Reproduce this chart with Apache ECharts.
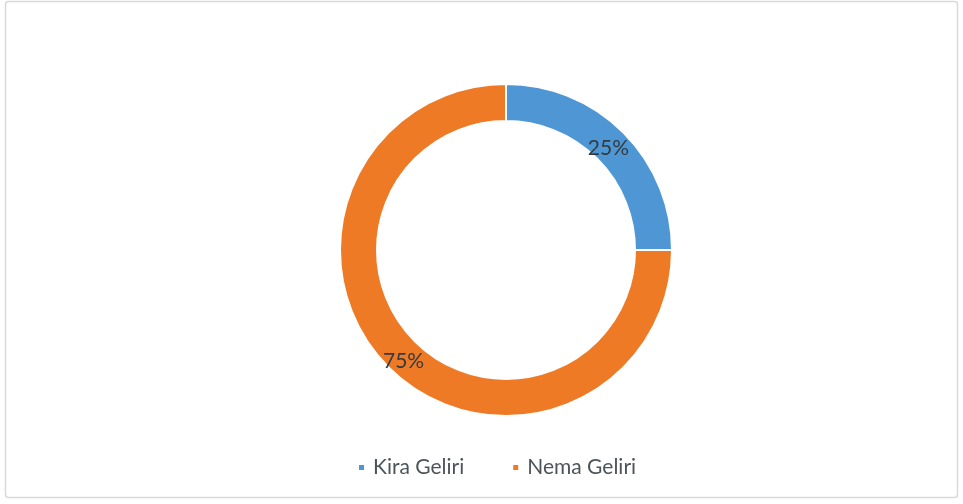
<!DOCTYPE html>
<html>
<head>
<meta charset="utf-8">
<script src="https://cdn.jsdelivr.net/npm/echarts@6/dist/echarts.min.js"></script>
<style>
html,body{margin:0;padding:0;background:#fff;}
#c{width:963px;height:504px;}
</style>
</head>
<body>
<div id="c"></div>
<script>
const categories = ['Kira Geliri', 'Nema Geliri'];
const values = [25, 75];
const colors = ['#4E97D4', '#EE7A26'];
const labelOffsets = [[-4, 5], [4, 5]];

const chart = echarts.init(document.getElementById('c'), null, {renderer: 'canvas'});
chart.setOption({
  backgroundColor: '#ffffff',
  animation: false,
  graphic: [{
    type: 'rect',
    shape: {x: 5.5, y: 1.5, width: 952, height: 496, r: 3},
    style: {fill: 'none', stroke: '#d9d9d9', lineWidth: 1.5},
    silent: true
  }],
  legend: {
    data: categories,
    left: 352,
    top: 452,
    icon: 'rect',
    itemWidth: 7,
    itemHeight: 7,
    itemGap: 47,
    textStyle: {fontFamily: 'Lato', fontSize: 21, color: '#4d5459', padding: [0, 0, 0, 3]}
  },
  series: [{
    type: 'pie',
    center: [506, 250],
    radius: [129, 166],
    startAngle: 90,
    clockwise: true,
    avoidLabelOverlap: false,
    itemStyle: {borderColor: '#ffffff', borderWidth: 2},
    label: {
      show: true,
      position: 'inside',
      formatter: '{d}%',
      fontFamily: 'Lato',
      fontSize: 21,
      color: '#333b40'
    },
    labelLine: {show: false},
    data: categories.map((n, i) => ({
      name: n, value: values[i],
      itemStyle: {color: colors[i]},
      label: {offset: labelOffsets[i]}
    }))
  }]
});
</script>
</body>
</html>
